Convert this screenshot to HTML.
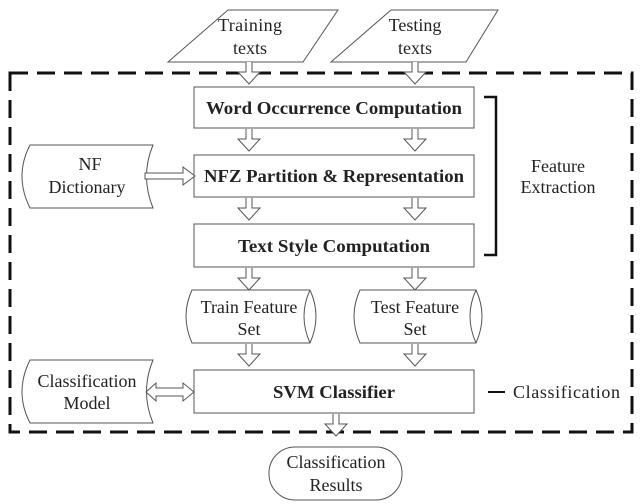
<!DOCTYPE html>
<html><head><meta charset="utf-8"><style>
html,body{margin:0;padding:0;background:#fff;}
svg{display:block;}
text{font-family:"Liberation Serif",serif;fill:#222;}
.b{font-weight:bold;font-size:18px;}
.n{font-size:18px;}
</style></head><body>
<svg width="640" height="504" viewBox="0 0 640 504" xmlns="http://www.w3.org/2000/svg">
<defs>
<g id="ad"><path d="M-3,0 V10 H-11 L0,22 L11,10 H3 V0" fill="#fff" stroke="#555" stroke-width="1"/></g>
</defs>
<rect x="10" y="73" width="622" height="359" fill="none" stroke="#111" stroke-width="3" stroke-dasharray="18,9"/>
<polygon points="228,10 338,10 303,62 168,62" fill="#fff" stroke="#555"/>
<text class="n" x="250" y="31" text-anchor="middle" textLength="64">Training</text>
<text class="n" x="250" y="54" text-anchor="middle">texts</text>
<polygon points="391,10 498,10 466,62 331,62" fill="#fff" stroke="#555"/>
<text class="n" x="415" y="31" text-anchor="middle">Testing</text>
<text class="n" x="415" y="54" text-anchor="middle">texts</text>
<use href="#ad" x="249" y="62"/><use href="#ad" x="415" y="62"/>
<use href="#ad" x="249" y="129"/><use href="#ad" x="415" y="129"/>
<use href="#ad" x="249" y="198"/><use href="#ad" x="415" y="198"/>
<use href="#ad" x="249" y="268"/><use href="#ad" x="415" y="268"/>
<use href="#ad" x="249" y="344"/><use href="#ad" x="415" y="344"/>
<use href="#ad" x="336" y="414"/>
<rect x="194" y="87" width="280" height="41" fill="#fff" stroke="#555"/>
<text class="b" x="334" y="114" text-anchor="middle" textLength="256" lengthAdjust="spacingAndGlyphs">Word Occurrence Computation</text>
<rect x="194" y="155" width="280" height="42" fill="#fff" stroke="#555"/>
<text class="b" x="334" y="182" text-anchor="middle" textLength="260" lengthAdjust="spacingAndGlyphs">NFZ Partition &amp; Representation</text>
<rect x="194" y="224" width="280" height="43" fill="#fff" stroke="#555"/>
<text class="b" x="334" y="252" text-anchor="middle" textLength="192" lengthAdjust="spacingAndGlyphs">Text Style Computation</text>
<rect x="194" y="370" width="280" height="43" fill="#fff" stroke="#555"/>
<text class="b" x="334" y="398" text-anchor="middle" textLength="122" lengthAdjust="spacingAndGlyphs">SVM Classifier</text>
<path d="M484,97 H496 V255 H484" fill="none" stroke="#111" stroke-width="2.5"/>
<text class="n" x="558" y="172" text-anchor="middle">Feature</text>
<text class="n" x="558" y="193" text-anchor="middle">Extraction</text>
<path d="M30,145 H153 Q140,176 153,208 H30 Q14,176 30,145 Z" fill="#fff" stroke="#555"/>
<text class="n" x="90" y="170" text-anchor="middle">NF</text>
<text class="n" x="87" y="193" text-anchor="middle">Dictionary</text>
<path d="M145,173 H183 V167 L195,176 L183,185 V179 H145 Z" fill="#fff" stroke="#555"/>
<path d="M192,290 H310 Q322,316 310,343 H192 Q180,316 192,290 Z" fill="#fff" stroke="#555"/>
<path d="M310,290 Q298,316 310,343" fill="none" stroke="#555"/>
<text class="n" x="249" y="313" text-anchor="middle">Train Feature</text>
<text class="n" x="249" y="335" text-anchor="middle">Set</text>
<path d="M360,290 H476 Q488,316 476,343 H360 Q348,316 360,290 Z" fill="#fff" stroke="#555"/>
<path d="M476,290 Q464,316 476,343" fill="none" stroke="#555"/>
<text class="n" x="415" y="313" text-anchor="middle">Test Feature</text>
<text class="n" x="415" y="335" text-anchor="middle">Set</text>
<path d="M30,360 H153 Q140,392 153,423 H30 Q14,392 30,360 Z" fill="#fff" stroke="#555"/>
<text class="n" x="87" y="387" text-anchor="middle">Classification</text>
<text class="n" x="87" y="409" text-anchor="middle">Model</text>
<path d="M146,392 L156,383 V388 H183 V383 L194,392 L183,401 V396 H156 V401 Z" fill="#fff" stroke="#555"/>
<line x1="488" y1="392" x2="505" y2="392" stroke="#111" stroke-width="2"/>
<text class="n" x="513" y="398" textLength="107">Classification</text>
<rect x="269" y="447" width="133" height="53" rx="26" fill="#fff" stroke="#555"/>
<text class="n" x="336" y="468" text-anchor="middle">Classification</text>
<text class="n" x="336" y="491" text-anchor="middle">Results</text>
</svg>
</body></html>
